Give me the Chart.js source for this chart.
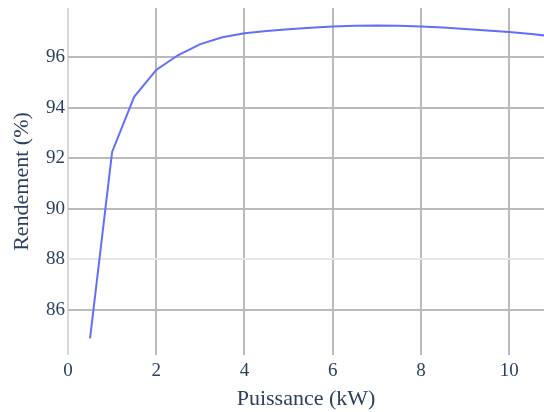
<!DOCTYPE html>
<html>
<head>
<meta charset="utf-8">
<script src="https://cdn.jsdelivr.net/npm/chart.js@4/dist/chart.umd.min.js"></script>
<style>
  html, body { margin: 0; padding: 0; background: #fff; }
  #wrap { width: 544px; height: 412px; }
</style>
</head>
<body>
<div id="wrap"><canvas id="effChart" width="544" height="412"></canvas></div>
<script>
// ===== Data =====
const puissance = [0.5, 1, 1.5, 2, 2.5, 3, 3.5, 4, 4.5, 5, 5.5, 6, 6.5, 7, 7.5, 8, 8.5, 9, 9.5, 10, 10.5, 11];
const rendement = [84.88, 92.25, 94.43, 95.49, 96.08, 96.51, 96.78, 96.94, 97.03, 97.1, 97.16, 97.21, 97.24, 97.25, 97.24, 97.21, 97.17, 97.11, 97.05, 96.99, 96.91, 96.82];
const xTicks = [0, 2, 4, 6, 8, 10];
const yTicks = [86, 88, 90, 92, 94, 96];

const textColor = "#2a3f5f";
const gridColor = "#b9b9be";

const ctx = document.getElementById("effChart").getContext("2d");
new Chart(ctx, {
  type: "line",
  data: {
    datasets: [{
      data: puissance.map((x, i) => ({ x: x, y: rendement[i] })),
      borderColor: "#636efa",
      borderWidth: 2,
      pointRadius: 0,
      tension: 0,
      fill: false
    }]
  },
  options: {
    responsive: false,
    animation: false,
    devicePixelRatio: 1,
    layout: { padding: { top: 8, right: 0, bottom: 0, left: 0 } },
    plugins: { legend: { display: false }, tooltip: { enabled: false } },
    scales: {
      x: {
        type: "linear",
        min: 0,
        max: 10.79,
        afterBuildTicks: (scale) => { scale.ticks = xTicks.map(v => ({ value: v })); },
        afterFit: (scale) => {
          scale.height = 57;
          scale.paddingLeft = 0;
          scale.paddingRight = 0;
        },
        border: { display: false },
        grid: {
          drawTicks: false,
          lineWidth: 2,
          color: (c) => (c.tick && c.tick.value === 0) ? "#d5d8de" : gridColor
        },
        ticks: {
          padding: 5,
          color: textColor,
          font: { family: "Liberation Serif", size: 19 }
        },
        title: {
          display: true,
          text: "Puissance (kW)",
          color: textColor,
          padding: { top: 1, bottom: 0 },
          font: { family: "Liberation Serif", size: 22 }
        }
      },
      y: {
        type: "linear",
        min: 84.22,
        max: 97.94,
        afterBuildTicks: (scale) => { scale.ticks = yTicks.map(v => ({ value: v })); },
        afterFit: (scale) => {
          scale.width = 68;
          scale.paddingTop = 0;
          scale.paddingBottom = 0;
        },
        border: { display: false },
        grid: {
          drawTicks: false,
          lineWidth: 2,
          color: (c) => (c.tick && c.tick.value === 88) ? "#e6e7ec" : gridColor
        },
        ticks: {
          padding: 3,
          color: textColor,
          font: { family: "Liberation Serif", size: 19 }
        },
        title: {
          display: true,
          text: "Rendement (%)",
          color: textColor,
          padding: { top: 9, bottom: 0 },
          font: { family: "Liberation Serif", size: 22 }
        }
      }
    }
  }
});
</script>
</body>
</html>
